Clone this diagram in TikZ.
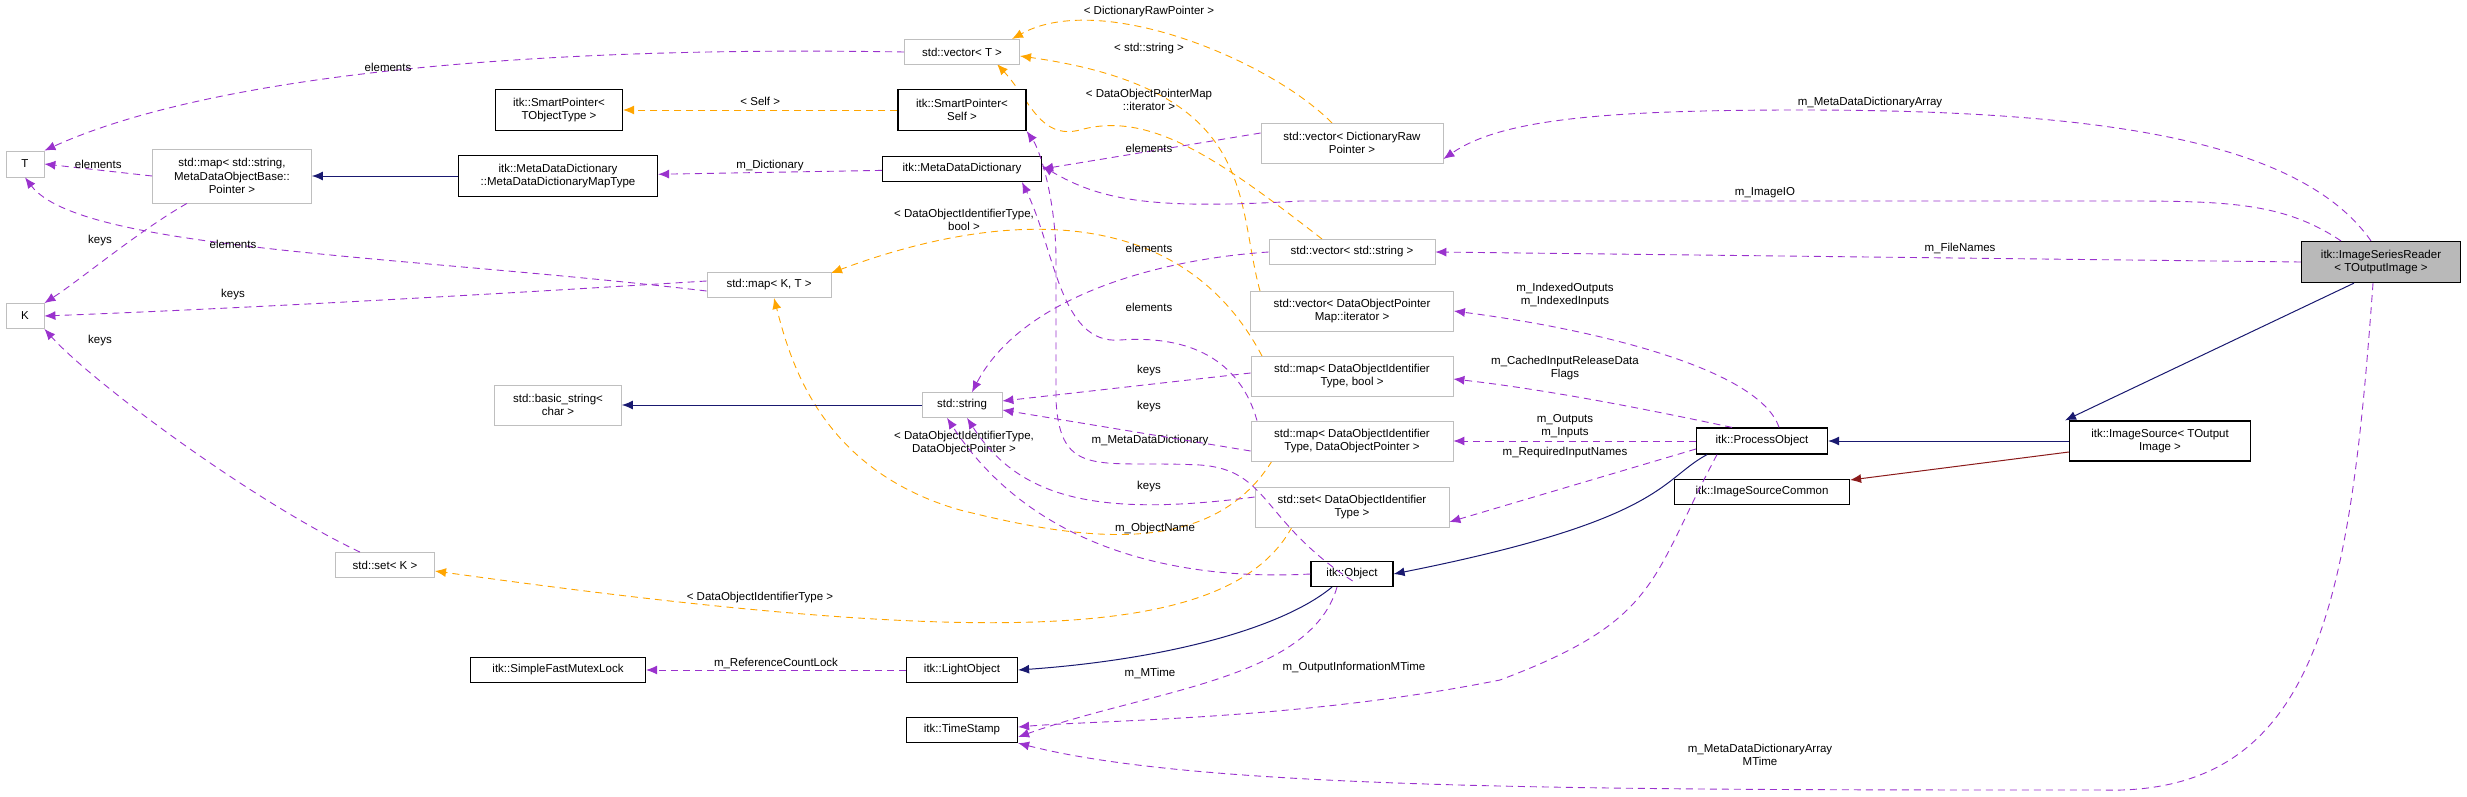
\documentclass[tikz,border=0pt]{standalone}
\usepackage{fontspec}
\setmainfont{Liberation Sans}
\usetikzlibrary{arrows.meta}
\definecolor{mem}{HTML}{9A32CD}
\definecolor{tpl}{HTML}{FFA500}
\definecolor{inh}{HTML}{191970}
\definecolor{pinh}{HTML}{8B1A1A}
\definecolor{gb}{HTML}{BFBFBF}
\tikzset{
 box/.style={draw=black,line width=1.2pt,fill=white,align=center,inner sep=0pt,font=\fontsize{11.5}{13.5}\selectfont},
 gbox/.style={box,draw=gb,line width=0.8pt},
 tip/.style={-{Latex[length=11pt,width=9pt]}},
 memb/.style={tip,draw=mem,dash pattern=on 7pt off 5pt,line width=0.9pt},
 tmpl/.style={tip,draw=tpl,dash pattern=on 7pt off 5pt,line width=0.9pt},
 inhe/.style={tip,draw=inh,line width=1pt},
 pinhe/.style={tip,draw=pinh,line width=1pt},
 lab/.style={font=\fontsize{11.5}{13.5}\selectfont,align=center,inner sep=0pt}
}
\begin{document}
\begin{tikzpicture}[x=1pt,y=-1pt]
\useasboundingbox (0,0) rectangle (2467,797);
% template edges first (behind boxes)
\draw[tmpl] (1332,123) .. controls (1270,60) and (1100,-10) .. (1012,39);
\node[lab] at (1149,12) {\textless{} DictionaryRawPointer \textgreater};
\draw[tmpl] (1260,291) .. controls (1235,200) and (1260,90) .. (1020,56);
\node[lab] at (1149,49) {\textless{} std::string \textgreater};
\draw[tmpl] (1322,239) .. controls (1220,160) and (1150,110) .. (1080,130) .. controls (1040,140) and (1030,100) .. (997,64);
\node[lab] at (1149,100) {\textless{} DataObjectPointerMap\\::iterator \textgreater};
\draw[tmpl] (1262,356) .. controls (1180,200) and (1000,210) .. (831,273);
\node[lab] at (964,220) {\textless{} DataObjectIdentifierType,\\ bool \textgreater};
\draw[tmpl] (1272,461) .. controls (1210,560) and (1080,540) .. (960,510) .. controls (820,470) and (790,360) .. (774,298);
\node[lab] at (964,443) {\textless{} DataObjectIdentifierType,\\ DataObjectPointer \textgreater};
\draw[tmpl] (1292,527) .. controls (1230,640) and (1000,650) .. (435,571);
\node[lab] at (760,598) {\textless{} DataObjectIdentifierType \textgreater};
% nodes
\node[gbox,minimum width=38pt,minimum height=26pt] (T) at (25,164) {T};
\node[gbox,minimum width=38pt,minimum height=25pt] (K) at (25,316) {K};
\node[gbox,minimum width=159pt,minimum height=54pt] (mapss) at (232,176) {std::map\textless{} std::string,\\ MetaDataObjectBase::\\Pointer \textgreater};
\node[box,minimum width=127pt,minimum height=41pt] (spt) at (559,110) {itk::SmartPointer\textless\\ TObjectType \textgreater};
\node[box,minimum width=199pt,minimum height=41pt] (mapt) at (558,176) {itk::MetaDataDictionary\\::MetaDataDictionaryMapType};
\node[gbox,minimum width=124pt,minimum height=25pt] (mapkt) at (769,285) {std::map\textless{} K, T \textgreater};
\node[gbox,minimum width=127pt,minimum height=40pt] (bstr) at (558,405) {std::basic\_string\textless\\ char \textgreater};
\node[gbox,minimum width=99pt,minimum height=25pt] (setk) at (385,565) {std::set\textless{} K \textgreater};
\node[box,minimum width=175pt,minimum height=25pt] (mutex) at (558,670) {itk::SimpleFastMutexLock};
\node[gbox,minimum width=115pt,minimum height=25pt] (vecT) at (962,52) {std::vector\textless{} T \textgreater};
\node[box,minimum width=128pt,minimum height=41pt] (sps) at (962,110) {itk::SmartPointer\textless\\ Self \textgreater};
\node[box,minimum width=159pt,minimum height=25pt] (mdd) at (962,169) {itk::MetaDataDictionary};
\node[gbox,minimum width=80pt,minimum height=25pt] (str) at (962,405) {std::string};
\node[box,minimum width=111pt,minimum height=25pt] (light) at (962,670) {itk::LightObject};
\node[box,minimum width=111pt,minimum height=25pt] (ts) at (962,730) {itk::TimeStamp};
\node[gbox,minimum width=182pt,minimum height=40pt] (vdrp) at (1352,143) {std::vector\textless{} DictionaryRaw\\Pointer \textgreater};
\node[gbox,minimum width=166pt,minimum height=25pt] (vstr) at (1352,252) {std::vector\textless{} std::string \textgreater};
\node[gbox,minimum width=203pt,minimum height=40pt] (vit) at (1352,311) {std::vector\textless{} DataObjectPointer\\Map::iterator \textgreater};
\node[gbox,minimum width=202pt,minimum height=40pt] (mapb) at (1352,376) {std::map\textless{} DataObjectIdentifier\\Type, bool \textgreater};
\node[gbox,minimum width=202pt,minimum height=40pt] (mapd) at (1352,441) {std::map\textless{} DataObjectIdentifier\\Type, DataObjectPointer \textgreater};
\node[gbox,minimum width=194pt,minimum height=40pt] (setd) at (1352,507) {std::set\textless{} DataObjectIdentifier\\Type \textgreater};
\node[box,minimum width=82pt,minimum height=25pt] (obj) at (1352,574) {itk::Object};
\node[box,minimum width=131pt,minimum height=26pt] (po) at (1762,441) {itk::ProcessObject};
\node[box,minimum width=175pt,minimum height=25pt] (isc) at (1762,492) {itk::ImageSourceCommon};
\node[box,minimum width=181pt,minimum height=40pt] (is) at (2160,441) {itk::ImageSource\textless{} TOutput\\Image \textgreater};
\node[box,fill=gray!55,minimum width=159pt,minimum height=41pt] (rd) at (2381,262) {itk::ImageSeriesReader\\\textless{} TOutputImage \textgreater};
% inheritance
\draw[inhe] (mapt) -- (mapss);
\draw[inhe] (str) -- (bstr);
\draw[inhe] (is) -- (po);
\draw[pinhe] (is.west |- 0,452) -- (isc.east |- 0,480);
\draw[inhe] ([xshift=-27pt]rd.south) -- ([xshift=-95pt]is.north);
\draw[inhe] ([xshift=-55pt]po.south) .. controls (1660,480) and (1665,520) .. (obj.east);
\draw[inhe] ([xshift=-20pt]obj.south) .. controls (1280,630) and (1160,660) .. (light.east);
\draw[tmpl] (sps) -- (spt) node[lab,midway,above=4pt] {\textless{} Self \textgreater};
% member edges
\draw[memb] (vecT.west) .. controls (500,45) and (200,80) .. (T.north east);
\node[lab] at (388,67) {elements};
\draw[memb] (mapss.west) -- (T.east) node[lab,midway,above=1pt] {elements};
\draw[memb] ([xshift=-45pt]mapss.south) .. controls (140,230) and (80,280) .. (K.north east);
\node[lab] at (100,241) {keys};
\draw[memb] ([yshift=-6pt]mapkt.west) .. controls (400,255) and (80,250) .. (T.south);
\node[lab] at (233,244) {elements};
\draw[memb] ([yshift=4pt]mapkt.west) .. controls (400,300) and (200,310) .. (K.east);
\node[lab] at (233,295) {keys};
\draw[memb] ([xshift=-25pt]setk.north) .. controls (250,500) and (90,380) .. (K.south east);
\node[lab] at (100,341) {keys};
\draw[memb] (mdd) -- (mapt) node[lab,midway,above=1pt] {m\_Dictionary};
\draw[memb] ([yshift=10pt]vdrp.west) -- (mdd.east);
\node[lab] at (1149,148) {elements};
\draw[memb] ([xshift=-40pt]rd.north) .. controls (2280,200) and (2220,201) .. (2100,201) -- (1300,201) .. controls (1150,210) and (1100,200) .. ([yshift=3pt]mdd.east);
\node[lab] at (1765,193) {m\_ImageIO};
\draw[memb] ([xshift=-10pt]rd.north) .. controls (2300,140) and (2100,110) .. (1800,110) .. controls (1600,110) and (1500,120) .. ([yshift=-16pt]vdrp.east);
\node[lab] at (1870,103) {m\_MetaDataDictionaryArray};
\draw[memb] (rd.west) -- (vstr.east);
\node[lab] at (1960,248) {m\_FileNames};
\draw[memb] (vstr.west) .. controls (1150,260) and (1020,300) .. ([xshift=10pt]str.north);
\node[lab] at (1149,248) {elements};
\draw[memb] ([xshift=-95pt]mapd.north) .. controls (1240,360) and (1190,335) .. (1120,340) .. controls (1060,345) and (1055,250) .. ([xshift=60pt]mdd.south);
\node[lab] at (1149,307) {elements};
\draw[memb] ([xshift=-41pt,yshift=-7pt]obj.east) .. controls (1260,520) and (1270,470) .. (1200,465) .. controls (1100,460) and (1060,480) .. (1056,400) -- (1056,260) .. controls (1056,200) and (1040,150) .. (sps.south east);
\node[lab] at (1150,441) {m\_MetaDataDictionary};
\draw[memb] ([yshift=3pt]mapb.west) -- ([yshift=4pt]str.east);
\node[lab] at (1149,371) {keys};
\draw[memb] ([yshift=-10pt]mapd.west) -- ([yshift=-5pt]str.east);
\node[lab] at (1149,407) {keys};
\draw[memb] ([yshift=10pt]setd.west) .. controls (1100,517) and (1020,500) .. ([xshift=5pt]str.south);
\node[lab] at (1149,487) {keys};
\draw[memb] (obj.west) .. controls (1200,580) and (1040,560) .. ([xshift=-15pt]str.south);
\node[lab] at (1155,529) {m\_ObjectName};
\draw[memb] ([xshift=17pt]po.north) .. controls (1760,370) and (1600,330) .. (vit.east);
\node[lab] at (1565,295) {m\_IndexedOutputs\\m\_IndexedInputs};
\draw[memb] ([xshift=-30pt]po.north) .. controls (1650,410) and (1550,390) .. ([yshift=-3pt]mapb.east);
\node[lab] at (1565,368) {m\_CachedInputReleaseData\\Flags};
\draw[memb] (po.west) -- (mapd.east);
\node[lab] at (1565,426) {m\_Outputs\\m\_Inputs};
\draw[memb] ([yshift=-8pt]po.west) -- ([yshift=-15pt]setd.east);
\node[lab] at (1565,453) {m\_RequiredInputNames};
\draw[memb] ([xshift=-45pt]po.south) .. controls (1650,580) and (1660,620) .. (1500,680) .. controls (1300,720) and (1100,720) .. ([yshift=3pt]ts.east);
\node[lab] at (1354,668) {m\_OutputInformationMTime};
\draw[memb] ([xshift=-15pt]obj.south) .. controls (1310,680) and (1150,690) .. ([yshift=-7pt]ts.east);
\node[lab] at (1150,673) {m\_MTime};
\draw[memb] ([xshift=-8pt]rd.south) .. controls (2350,600) and (2320,797) .. (2100,790) .. controls (1600,790) and (1200,790) .. (ts.south east);
\node[lab] at (1760,755) {m\_MetaDataDictionaryArray\\MTime};
\draw[memb] (light) -- (mutex) node[lab,midway,above=1pt] {m\_ReferenceCountLock};
\end{tikzpicture}
\end{document}
